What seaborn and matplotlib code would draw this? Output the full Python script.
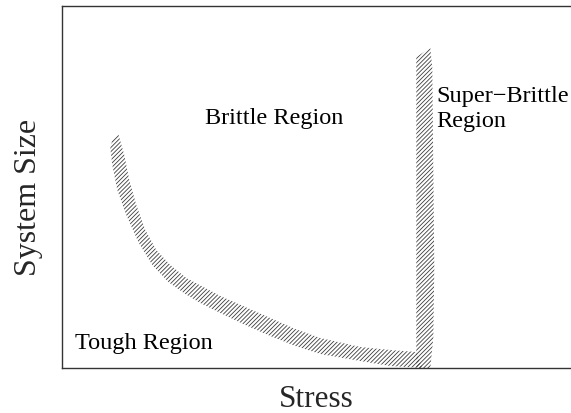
import matplotlib
matplotlib.use("Agg")
import matplotlib.pyplot as plt
import seaborn as sns

# ---- data (axis units: stress 0..509, system size 0..362) ----
# curved boundary band (tough / brittle transition)
curve_upper_x = [56, 62, 67, 74, 83, 94, 108, 124, 143, 158, 183, 208, 233, 258, 298, 328, 354]
curve_upper_y = [234, 213, 188, 163, 138, 118, 103, 90, 80, 72, 61, 50, 39, 30, 21, 18, 16]
curve_lower_x = [360, 328, 298, 258, 233, 208, 183, 158, 138, 123, 106, 90, 76, 64, 55, 50, 48, 50]
curve_lower_y = [0, 2, 7, 14, 22, 32, 43, 55, 65, 74, 86, 103, 126, 153, 178, 203, 220, 228]

# vertical boundary band (brittle / super-brittle transition)
vert_x = [354, 354, 368, 370, 371, 372, 371, 368]
vert_y = [0, 311, 320, 300, 200, 100, 30, 0]

region_labels = ["Brittle Region", "Super\u2212Brittle", "Region", "Tough Region"]
region_x = [212, 374, 374, 13]
region_y = [244, 266, 241, 19]
region_ha = ["center", "left", "left", "left"]

x_label = "Stress"
y_label = "System Size"

# ---- style ----
sns.set_theme(style="white")
plt.rcParams["font.family"] = ["Liberation Serif", "DejaVu Serif"]
plt.rcParams["hatch.linewidth"] = 0.6

W, H = 571, 413
fig = plt.figure(figsize=(W / 100, H / 100), dpi=100)
ax = fig.add_axes([62.3 / W, 45 / H, (W - 62.3) / W, 362 / H])

hatch_color = "#3c3c3c"
ax.fill(curve_upper_x + curve_lower_x, curve_upper_y + curve_lower_y,
        facecolor="none", edgecolor=hatch_color, hatch="////////", linewidth=0)
ax.fill(vert_x, vert_y, facecolor="none", edgecolor=hatch_color,
        hatch="////////", linewidth=0)

for lab, x, y, ha in zip(region_labels, region_x, region_y, region_ha):
    ax.text(x, y, lab, ha=ha, va="baseline", fontsize=17.5, color="black")

ax.set_xlim(0, 508.7)
ax.set_ylim(0, 362)
ax.set_xticks([])
ax.set_yticks([])

ax.set_xlabel(x_label, fontsize=22.5, va="baseline")
ax.set_ylabel(y_label, fontsize=23, va="baseline")
ax.xaxis.set_label_coords(0.5, (368 - 407) / 362)
ax.yaxis.set_label_coords((36 - 62.3) / 508.7, (368 - 197) / 362)

sns.despine(ax=ax, right=True, top=False, left=False, bottom=False)
for s in ["top", "left", "bottom"]:
    ax.spines[s].set_color("#333333")
    ax.spines[s].set_linewidth(1.0)

fig.savefig("out.png", dpi=100)
